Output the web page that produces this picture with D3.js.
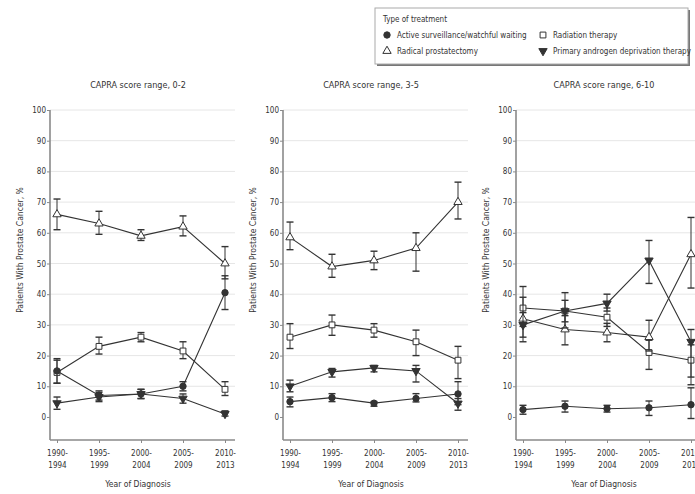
<!DOCTYPE html>
<html>
<head>
<meta charset="utf-8">
<script src="https://cdn.jsdelivr.net/npm/d3@7"></script>
<style>
  body { margin: 0; background: #fff; }
  svg text { font-family: "Liberation Sans Narrow", "DejaVu Sans Condensed", "Arial Narrow", sans-serif; fill: #333; }
</style>
</head>
<body>
<div id="chart"></div>
<script>
// periods on the x axis
const years = ["1990-1994", "1995-1999", "2000-2004", "2005-2009", "2010-2013"];
const yTicks = [0, 10, 20, 30, 40, 50, 60, 70, 80, 90, 100];
const titles = ["CAPRA score range, 0-2", "CAPRA score range, 3-5", "CAPRA score range, 6-10"];

// CAPRA 0-2
const as02 = [15, 7, 7.5, 10, 40.5], as02Lo = [11, 5.5, 6, 8.5, 35], as02Hi = [18.5, 8.5, 9, 11.5, 46];
const rp02 = [66, 63, 59, 62, 50], rp02Lo = [61, 59.5, 57.5, 59, 45], rp02Hi = [71, 67, 61, 65.5, 55.5];
const rt02 = [14.5, 23, 26, 21.5, 9], rt02Lo = [11, 20.5, 24.5, 19, 7], rt02Hi = [19, 26, 27.5, 24.5, 11.5];
const adt02 = [4.5, 6.5, 7.5, 6, 1], adt02Lo = [2.5, 5, 6, 4.5, 0.3], adt02Hi = [6.5, 8, 9, 7.5, 2];

// CAPRA 3-5
const as35 = [5, 6.3, 4.5, 6, 7.5], as35Lo = [3.3, 5, 3.5, 4.9, 4], as35Hi = [6.5, 7.6, 5, 7.6, 11.5];
const rp35 = [58.5, 49, 51, 55, 70], rp35Lo = [54.5, 45.5, 48, 47.5, 64.5], rp35Hi = [63.5, 53, 54, 60, 76.5];
const rt35 = [26, 30, 28.3, 24.5, 18.5], rt35Lo = [22.3, 26.6, 26, 20, 12.5], rt35Hi = [30.4, 33.2, 30.4, 28.3, 23];
const adt35 = [10, 14.7, 16, 15, 4.4], adt35Lo = [8.2, 13, 14.7, 11.4, 2.2], adt35Hi = [12, 15.8, 16.8, 16.8, 6];

// CAPRA 6-10
const as610 = [2.4, 3.5, 2.7, 3, 4], as610Lo = [0.9, 1.6, 1.6, 0.5, -0.5], as610Hi = [3.8, 5.2, 3.8, 5.2, 9.5];
const rp610 = [32, 28.5, 27.5, 26, 53], rp610Lo = [24.5, 23.5, 24.5, 21.5, 42], rp610Hi = [39, 33, 30.5, 31.5, 65];
const rt610 = [35.5, 34.5, 32.5, 21, 18.5], rt610Lo = [29.5, 31, 29.5, 15.5, 13], rt610Hi = [42.5, 38, 35.5, 25, 23.5];
const adt610 = [30, 34.5, 37, 51, 24.5], adt610Lo = [26, 29, 34.5, 43.5, 10.5], adt610Hi = [34, 40.5, 40, 57.5, 28.5];

const panels = [
    { as: [as02, as02Lo, as02Hi], rp: [rp02, rp02Lo, rp02Hi], rt: [rt02, rt02Lo, rt02Hi], adt: [adt02, adt02Lo, adt02Hi] },
    { as: [as35, as35Lo, as35Hi], rp: [rp35, rp35Lo, rp35Hi], rt: [rt35, rt35Lo, rt35Hi], adt: [adt35, adt35Lo, adt35Hi] },
    { as: [as610, as610Lo, as610Hi], rp: [rp610, rp610Lo, rp610Hi], rt: [rt610, rt610Lo, rt610Hi], adt: [adt610, adt610Lo, adt610Hi] }
];

const INK = "#333";
const AXIS = "#8a8a8a";
const GRID = "#e6e6e6";

const width = 695, height = 494;
const svg = d3.select("#chart").append("svg").attr("width", width).attr("height", height);

const y = d3.scaleLinear().domain([-7.5, 100]).range([440, 110]);

// marker shapes per treatment
const markers = {
    as: { type: d3.symbolCircle, size: 32, fill: INK, rot: 0 },
    rp: { type: d3.symbolTriangle, size: 30, fill: "#fff", rot: 0 },
    rt: { type: d3.symbolSquare, size: 34, fill: "#fff", rot: 0 },
    adt: { type: d3.symbolTriangle, size: 30, fill: INK, rot: 180 }
};
const order = ["rt", "rp", "adt", "as"];

panels.forEach(function (p, i) {
    let ax = 50 + 233 * i;
    let x = d3.scalePoint().domain(years).range([ax + 7, ax + 175]);
    let g = svg.append("g");

    // grid
    g.append("g").selectAll("line").data(yTicks.slice(1)).join("line")
        .attr("x1", ax).attr("x2", ax + 185)
        .attr("y1", d => y(d)).attr("y2", d => y(d))
        .attr("stroke", GRID).attr("stroke-width", 1);

    // y axis
    let ya = g.append("g").attr("transform", `translate(${ax},0)`)
        .call(d3.axisLeft(y).tickValues(yTicks).tickSize(3).tickSizeOuter(0));
    ya.select(".domain").remove();
    ya.selectAll(".tick line").attr("stroke", AXIS);
    ya.selectAll(".tick text").attr("font-size", 8).attr("fill", "#444").attr("x", -4);
    g.append("line").attr("x1", ax).attr("x2", ax).attr("y1", 110).attr("y2", 440)
        .attr("stroke", AXIS).attr("stroke-width", 1.6);

    // x axis, two-line period labels
    let xa = g.append("g").attr("transform", "translate(0,440)")
        .call(d3.axisBottom(x).tickSize(3).tickSizeOuter(0));
    xa.select(".domain").remove();
    xa.selectAll(".tick line").attr("stroke", AXIS);
    xa.selectAll(".tick text").text(null).attr("dy", null).attr("y", null)
        .attr("font-size", 8).attr("fill", "#444")
        .each(function (d) {
            let parts = d.split("-");
            let t = d3.select(this);
            t.append("tspan").attr("x", 0).attr("y", 16).text(parts[0] + "-");
            t.append("tspan").attr("x", 0).attr("y", 28).text(parts[1]);
        });
    g.append("line").attr("x1", ax).attr("x2", ax + 185).attr("y1", 440).attr("y2", 440)
        .attr("stroke", AXIS).attr("stroke-width", 1.6);

    // titles
    g.append("text").attr("x", ax + 88).attr("y", 88).attr("text-anchor", "middle")
        .attr("font-size", 9).text(titles[i]);
    g.append("text").attr("x", ax + 88).attr("y", 487).attr("text-anchor", "middle")
        .attr("font-size", 8.5).text("Year of Diagnosis");
    g.append("text").attr("transform", `translate(${ax - 27},250) rotate(-90)`)
        .attr("text-anchor", "middle").attr("font-size", 8.5)
        .text("Patients With Prostate Cancer, %");

    // series
    order.forEach(function (key) {
        let vals = p[key][0], lo = p[key][1], hi = p[key][2];
        let rows = years.map((yr, k) => ({ yr: yr, v: vals[k], lo: lo[k], hi: hi[k] }));
        let s = g.append("g");

        let line = d3.line().x(d => x(d.yr)).y(d => y(d.v));
        s.append("path").datum(rows).attr("d", line)
            .attr("fill", "none").attr("stroke", INK).attr("stroke-width", 1.1);

        let eb = s.append("g").selectAll("g").data(rows).join("g");
        eb.append("line").attr("x1", d => x(d.yr)).attr("x2", d => x(d.yr))
            .attr("y1", d => y(d.lo)).attr("y2", d => y(d.hi))
            .attr("stroke", INK).attr("stroke-width", 1);
        [d => y(d.lo), d => y(d.hi)].forEach(function (fy) {
            eb.append("line").attr("x1", d => x(d.yr) - 3.5).attr("x2", d => x(d.yr) + 3.5)
                .attr("y1", fy).attr("y2", fy)
                .attr("stroke", INK).attr("stroke-width", 1.4);
        });

        let m = markers[key];
        s.append("g").selectAll("path").data(rows).join("path")
            .attr("d", d3.symbol().type(m.type).size(m.size))
            .attr("transform", d => `translate(${x(d.yr)},${y(d.v)}) rotate(${m.rot})`)
            .attr("fill", m.fill).attr("stroke", INK).attr("stroke-width", 1);
    });
});

// legend
let lg = svg.append("g").attr("transform", "translate(375,8)");
lg.append("rect").attr("x", 2).attr("y", 2).attr("width", 313).attr("height", 56).attr("fill", "#777");
lg.append("rect").attr("x", 0).attr("y", 0).attr("width", 313).attr("height", 56)
    .attr("fill", "#fff").attr("stroke", "#aaa").attr("stroke-width", 1);
lg.append("text").attr("x", 8).attr("y", 14).attr("font-size", 8).text("Type of treatment");

const legendItems = [
    { key: "as", label: "Active surveillance/watchful waiting", col: 0, row: 0 },
    { key: "rt", label: "Radiation therapy", col: 1, row: 0 },
    { key: "rp", label: "Radical prostatectomy", col: 0, row: 1 },
    { key: "adt", label: "Primary androgen deprivation therapy", col: 1, row: 1 }
];
legendItems.forEach(function (it) {
    let lx = it.col === 0 ? 12 : 168;
    let ly = it.row === 0 ? 30 : 46;
    let m = markers[it.key];
    lg.append("path").attr("d", d3.symbol().type(m.type).size(m.size))
        .attr("transform", `translate(${lx},${ly - 3}) rotate(${m.rot})`)
        .attr("fill", m.fill).attr("stroke", INK).attr("stroke-width", 1);
    lg.append("text").attr("x", lx + 10).attr("y", ly).attr("font-size", 8).text(it.label);
});
</script>
</body>
</html>
